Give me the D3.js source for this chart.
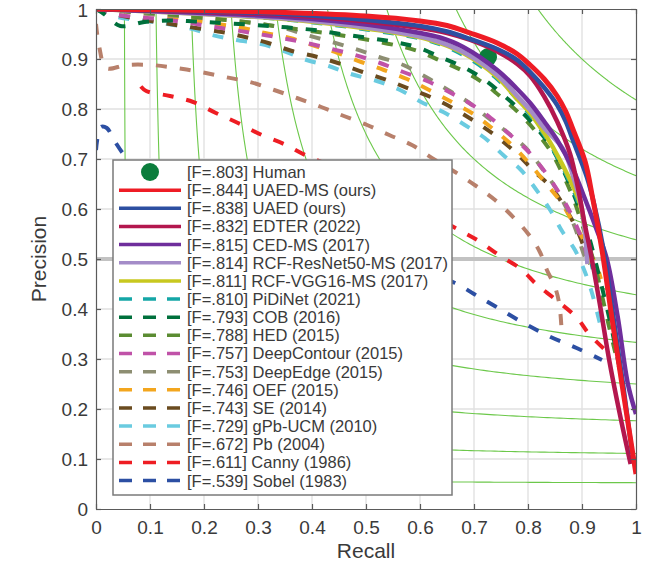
<!DOCTYPE html>
<html>
<head>
<meta charset="utf-8">
<script src="https://cdn.jsdelivr.net/npm/d3@7"></script>
<style>
  html, body { margin: 0; padding: 0; background: #fff; }
  svg { display: block; font-family: "Liberation Sans", Arial, Helvetica, sans-serif; }
</style>
</head>
<body>
<svg id="chart" width="664" height="565"></svg>
<script>
// Legend order: names and ODS F-measures
const methods = ['Human', 'UAED-MS (ours)', 'UAED (ours)', 'EDTER (2022)', 'CED-MS (2017)',
  'RCF-ResNet50-MS (2017)', 'RCF-VGG16-MS (2017)', 'PiDiNet (2021)', 'COB (2016)', 'HED (2015)',
  'DeepContour (2015)', 'DeepEdge (2015)', 'OEF (2015)', 'SE (2014)', 'gPb-UCM (2010)',
  'Pb (2004)', 'Canny (1986)', 'Sobel (1983)'];
const fScores = ['.803', '.844', '.838', '.832', '.815', '.814', '.811', '.810', '.793', '.788',
  '.757', '.753', '.746', '.743', '.729', '.672', '.611', '.539'];

// Human operating point [recall, precision]
const human = [0.726, 0.904];

// PR curves, [recall, precision] pairs
const uaedMs = [[0,1],[0.2,0.997],[0.35,0.993],[0.5,0.986],[0.6,0.976],[0.65,0.967],[0.693,0.952],[0.743,0.932],[0.78,0.91],[0.804,0.888],[0.83,0.86],[0.854,0.826],[0.87,0.795],[0.883,0.76],[0.906,0.694],[0.92,0.62],[0.937,0.518],[0.955,0.385],[0.974,0.25],[1.0,0.07]];
const uaed = [[0,1],[0.2,0.995],[0.35,0.99],[0.5,0.978],[0.6,0.966],[0.65,0.955],[0.693,0.94],[0.743,0.92],[0.78,0.898],[0.804,0.874],[0.83,0.843],[0.854,0.808],[0.87,0.775],[0.883,0.738],[0.909,0.664],[0.922,0.612],[0.94,0.518],[0.958,0.385],[0.976,0.25],[0.993,0.11]];
const edter = [[0,1],[0.2,0.994],[0.35,0.988],[0.5,0.975],[0.6,0.962],[0.65,0.952],[0.693,0.938],[0.743,0.915],[0.78,0.89],[0.804,0.866],[0.83,0.825],[0.854,0.775],[0.878,0.71],[0.893,0.64],[0.905,0.57],[0.915,0.518],[0.933,0.41],[0.95,0.3],[0.97,0.19],[0.99,0.09]];
const cedMs = [[0,1],[0.2,0.992],[0.35,0.984],[0.507,0.968],[0.6,0.952],[0.637,0.943],[0.68,0.924],[0.743,0.878],[0.78,0.84],[0.804,0.812],[0.83,0.775],[0.854,0.738],[0.883,0.68],[0.902,0.63],[0.925,0.565],[0.946,0.5],[0.966,0.385],[0.985,0.25],[1.0,0.19]];
const rcfRes = [[0,1],[0.2,0.99],[0.35,0.981],[0.507,0.962],[0.619,0.94],[0.68,0.914],[0.743,0.868],[0.78,0.826],[0.804,0.798],[0.83,0.762],[0.865,0.72],[0.885,0.66],[0.898,0.61],[0.905,0.56],[0.91,0.49]];
const rcfVgg = [[0,1],[0.2,0.99],[0.35,0.98],[0.507,0.96],[0.619,0.938],[0.68,0.912],[0.743,0.864],[0.78,0.82],[0.804,0.792],[0.83,0.752],[0.846,0.724],[0.878,0.658],[0.896,0.612],[0.905,0.56],[0.912,0.49]];
const pidinet = [[0,1],[0.2,0.99],[0.35,0.979],[0.507,0.958],[0.619,0.936],[0.68,0.908],[0.743,0.86],[0.804,0.788],[0.846,0.72],[0.878,0.652],[0.9,0.59],[0.912,0.52],[0.92,0.48]];
const cob = [[0,1],[0.015,0.99],[0.045,0.966],[0.09,0.974],[0.137,0.977],[0.185,0.975],[0.233,0.972],[0.322,0.966],[0.411,0.957],[0.452,0.95],[0.553,0.934],[0.596,0.923],[0.637,0.904],[0.68,0.884],[0.72,0.858],[0.754,0.828],[0.785,0.798],[0.816,0.762],[0.844,0.722],[0.865,0.678],[0.883,0.634],[0.9,0.585],[0.913,0.544],[0.928,0.482],[0.94,0.43],[0.955,0.36],[0.968,0.29]];
const hed = [[0,1],[0.04,0.997],[0.08,0.994],[0.15,0.988],[0.2,0.982],[0.276,0.974],[0.35,0.963],[0.45,0.948],[0.553,0.928],[0.596,0.916],[0.637,0.897],[0.68,0.876],[0.72,0.85],[0.754,0.82],[0.785,0.79],[0.816,0.753],[0.844,0.712],[0.865,0.668],[0.883,0.624],[0.9,0.57],[0.915,0.52],[0.93,0.46],[0.946,0.384],[0.96,0.32],[0.972,0.27]];
const deepContour = [[0,1],[0.03,0.99],[0.075,0.984],[0.117,0.98],[0.163,0.974],[0.207,0.966],[0.256,0.958],[0.3,0.95],[0.344,0.942],[0.39,0.932],[0.437,0.92],[0.48,0.908],[0.526,0.892],[0.569,0.874],[0.613,0.856],[0.654,0.834],[0.691,0.812],[0.731,0.782],[0.763,0.752],[0.798,0.718],[0.826,0.682],[0.852,0.642],[0.875,0.6],[0.893,0.558],[0.906,0.52],[0.915,0.48]];
const deepEdge = [[0,1],[0.1,0.99],[0.2,0.982],[0.294,0.972],[0.348,0.962],[0.39,0.948],[0.437,0.934],[0.481,0.92],[0.524,0.904],[0.569,0.888],[0.611,0.864],[0.652,0.838],[0.689,0.814],[0.724,0.784],[0.761,0.754],[0.796,0.722],[0.824,0.684],[0.85,0.644],[0.872,0.6],[0.888,0.56],[0.9,0.52],[0.91,0.49]];
const oef = [[0,1],[0.1,0.99],[0.211,0.972],[0.272,0.962],[0.313,0.952],[0.359,0.942],[0.406,0.926],[0.448,0.912],[0.491,0.894],[0.533,0.878],[0.576,0.86],[0.617,0.838],[0.659,0.814],[0.696,0.792],[0.733,0.762],[0.77,0.728],[0.8,0.694],[0.831,0.654],[0.861,0.614],[0.881,0.578],[0.9,0.544],[0.917,0.508],[0.928,0.484],[0.935,0.46]];
const se = [[0,1],[0.04,0.988],[0.137,0.97],[0.185,0.962],[0.233,0.954],[0.276,0.944],[0.319,0.932],[0.363,0.916],[0.41,0.904],[0.448,0.892],[0.494,0.874],[0.539,0.858],[0.581,0.84],[0.626,0.821],[0.667,0.798],[0.706,0.772],[0.743,0.744],[0.778,0.712],[0.809,0.678],[0.844,0.642],[0.87,0.6],[0.89,0.56],[0.905,0.52],[0.915,0.49]];
const gpbUcm = [[0,1],[0.04,0.984],[0.1,0.975],[0.172,0.962],[0.215,0.948],[0.259,0.938],[0.306,0.93],[0.348,0.916],[0.39,0.898],[0.431,0.886],[0.472,0.87],[0.52,0.856],[0.563,0.838],[0.602,0.814],[0.643,0.794],[0.683,0.768],[0.72,0.742],[0.754,0.708],[0.787,0.678],[0.813,0.642],[0.841,0.598],[0.863,0.556],[0.887,0.518],[0.904,0.478],[0.918,0.434],[0.933,0.372]];
const pb = [[0,0.97],[0.006,0.924],[0.019,0.882],[0.056,0.888],[0.102,0.888],[0.148,0.882],[0.194,0.874],[0.239,0.864],[0.285,0.854],[0.33,0.838],[0.372,0.822],[0.417,0.804],[0.459,0.786],[0.502,0.768],[0.543,0.748],[0.585,0.728],[0.628,0.698],[0.665,0.674],[0.704,0.646],[0.739,0.618],[0.776,0.58],[0.802,0.548],[0.822,0.514],[0.835,0.478],[0.85,0.444],[0.858,0.41],[0.862,0.362]];
const canny = [[0.083,0.845],[0.093,0.836],[0.137,0.826],[0.18,0.814],[0.222,0.792],[0.263,0.772],[0.307,0.748],[0.348,0.73],[0.387,0.708],[0.45,0.68],[0.52,0.645],[0.6,0.6],[0.669,0.56],[0.709,0.536],[0.746,0.508],[0.787,0.48],[0.817,0.448],[0.85,0.42],[0.891,0.382],[0.913,0.35],[0.943,0.318]];
const sobel = [[0,0.718],[0.009,0.764],[0.02,0.762],[0.035,0.735],[0.059,0.7],[0.1,0.67],[0.2,0.62],[0.3,0.58],[0.4,0.545],[0.5,0.51],[0.6,0.478],[0.665,0.452],[0.7,0.43],[0.74,0.405],[0.79,0.373],[0.84,0.345],[0.89,0.322],[0.937,0.298]];

// curves in legend order (index 1..17 of methods)
const curves = [uaedMs, uaed, edter, cedMs, rcfRes, rcfVgg, pidinet, cob, hed, deepContour,
  deepEdge, oef, se, gpbUcm, pb, canny, sobel];

// iso-F contour levels and axis ticks
const isoF = [0.1, 0.2, 0.3, 0.4, 0.5, 0.6, 0.7, 0.8, 0.9];
const tickValues = [0, 0.1, 0.2, 0.3, 0.4, 0.5, 0.6, 0.7, 0.8, 0.9, 1];
const tickLabels = ['0', '0.1', '0.2', '0.3', '0.4', '0.5', '0.6', '0.7', '0.8', '0.9', '1'];

// ---- styles ----
const colors = ['#0b7d3c', '#ee1c25', '#2d4fa1', '#b3174e', '#6f2e9c', '#a48cc8', '#c8c820',
  '#15a6a6', '#00703c', '#5b8c32', '#c052a8', '#8d8e72', '#f3a61e', '#6a4b1f', '#6acbe0',
  '#b8806b', '#ee1d23', '#2c4fa3'];
const dashed = [false, false, false, false, false, false, false, true, true, true, true, true,
  true, true, true, true, true, true];

(function() {
  'use strict';

  const x0 = 96, x1 = 636, yTop = 9, yBot = 509;
  const xs = d3.scaleLinear().domain([0, 1]).range([x0, x1]);
  const ys = d3.scaleLinear().domain([0, 1]).range([yBot, yTop]);
  const svg = d3.select('#chart');
  const axisColor = '#5a5a5a';
  const textColor = '#3a3a3a';

  svg.append('defs').append('clipPath').attr('id', 'plot-clip')
    .append('rect')
    .attr('x', x0).attr('y', yTop)
    .attr('width', x1 - x0).attr('height', yBot - yTop);

  // Grid
  const grid = svg.append('g').attr('stroke', '#e1e1e1').attr('stroke-width', 1.4);
  grid.selectAll('.gx').data(tickValues.slice(1, -1)).enter().append('line')
    .attr('x1', d => xs(d)).attr('x2', d => xs(d))
    .attr('y1', yTop).attr('y2', yBot);
  grid.selectAll('.gy').data(tickValues.slice(1, -1)).enter().append('line')
    .attr('x1', x0).attr('x2', x1)
    .attr('y1', d => ys(d)).attr('y2', d => ys(d));

  const plot = svg.append('g').attr('clip-path', 'url(#plot-clip)');

  // Iso-F contours
  const line = d3.line().x(d => xs(d[0])).y(d => ys(d[1]));
  isoF.forEach(f => {
    const r0 = f / (2 - f);
    const pts = d3.range(0, 201).map(i => {
      const r = r0 + (1 - r0) * Math.pow(i / 200, 2);
      return [r, f * r / (2 * r - f)];
    }).filter(d => d[1] <= 1.001);
    plot.append('path')
      .attr('d', line(pts))
      .attr('fill', 'none')
      .attr('stroke', '#6cc84a')
      .attr('stroke-width', 1.1);
  });

  // P = 0.5 reference line
  plot.append('line')
    .attr('x1', x0).attr('x2', x1)
    .attr('y1', ys(0.5)).attr('y2', ys(0.5))
    .attr('stroke', '#c2c2c2').attr('stroke-width', 4);

  const curveLine = d3.line()
    .x(d => xs(d[0])).y(d => ys(d[1]))
    .curve(d3.curveCatmullRom.alpha(0.5));

  // draw dashed ones first (bottom of legend upward), then solid ones
  const order = d3.range(curves.length).reverse();
  const drawCurve = i => {
    const k = i + 1;
    plot.append('path')
      .attr('d', curveLine(curves[i]))
      .attr('fill', 'none')
      .attr('stroke', colors[k])
      .attr('stroke-width', dashed[k] ? 4 : (k === 1 ? 5 : 4.5))
      .attr('stroke-dasharray', dashed[k] ? '11,13' : null)
      .attr('stroke-linejoin', 'round');
  };
  order.filter(i => dashed[i + 1]).forEach(drawCurve);

  // Human point
  plot.append('circle')
    .attr('cx', xs(human[0])).attr('cy', ys(human[1]))
    .attr('r', 9).attr('fill', colors[0]);

  order.filter(i => !dashed[i + 1]).forEach(drawCurve);

  // Axes (Matlab box style, inward ticks)
  const styleAxis = g => {
    g.select('.domain').attr('stroke', axisColor).attr('stroke-width', 1.2);
    g.selectAll('.tick line').attr('stroke', axisColor).attr('stroke-width', 1.2);
    g.selectAll('.tick text').attr('fill', textColor).attr('font-size', 19)
      .attr('font-family', '"Liberation Sans", Arial, sans-serif');
  };
  const fmt = d => tickLabels[tickValues.indexOf(d)];

  svg.append('g').attr('transform', `translate(0,${yBot})`)
    .call(d3.axisBottom(xs).tickValues(tickValues).tickFormat(fmt)
      .tickSizeInner(-5).tickSizeOuter(0).tickPadding(12))
    .call(styleAxis);
  svg.append('g').attr('transform', `translate(0,${yTop})`)
    .call(d3.axisTop(xs).tickValues(tickValues).tickFormat('')
      .tickSizeInner(-5).tickSizeOuter(0))
    .call(styleAxis);
  const yAxis = svg.append('g').attr('transform', `translate(${x0},0)`)
    .call(d3.axisLeft(ys).tickValues(tickValues).tickFormat(fmt)
      .tickSizeInner(-5).tickSizeOuter(0).tickPadding(8))
    .call(styleAxis);
  // keep the top label inside the picture
  yAxis.selectAll('.tick text').filter(d => d === 1).attr('dy', '0.42em');
  svg.append('g').attr('transform', `translate(${x1},0)`)
    .call(d3.axisRight(ys).tickValues(tickValues).tickFormat('')
      .tickSizeInner(-5).tickSizeOuter(0))
    .call(styleAxis);

  // Axis titles
  svg.append('text')
    .attr('x', (x0 + x1) / 2).attr('y', 558)
    .attr('text-anchor', 'middle')
    .attr('font-size', 21).attr('fill', textColor)
    .text('Recall');
  svg.append('text')
    .attr('transform', `translate(46,${(yTop + yBot) / 2}) rotate(-90)`)
    .attr('text-anchor', 'middle')
    .attr('font-size', 21).attr('fill', textColor)
    .text('Precision');

  // Legend
  const lx = 113, ly = 160, lw = 339, lh = 335;
  const legend = svg.append('g');
  legend.append('rect')
    .attr('x', lx).attr('y', ly).attr('width', lw).attr('height', lh)
    .attr('fill', '#fff').attr('stroke', '#7a7a7a').attr('stroke-width', 1.5);

  const rowY = i => 172 + i * 18.15;
  const rows = legend.selectAll('.row').data(methods).enter().append('g')
    .attr('transform', (d, i) => `translate(0,${rowY(i)})`);

  rows.each(function(d, i) {
    const g = d3.select(this);
    if (i === 0) {
      g.append('circle').attr('cx', 150).attr('cy', 0).attr('r', 9).attr('fill', colors[0]);
    } else {
      g.append('line')
        .attr('x1', 119).attr('x2', 181).attr('y1', 0).attr('y2', 0)
        .attr('stroke', colors[i])
        .attr('stroke-width', 3.5)
        .attr('stroke-dasharray', dashed[i] ? '13,11' : null);
    }
    g.append('text')
      .attr('x', 187).attr('y', 0).attr('dy', '0.36em')
      .attr('font-size', 16.5).attr('fill', textColor)
      .text(`[F=${fScores[i]}] ${d}`);
  });
})();
</script>
</body>
</html>
